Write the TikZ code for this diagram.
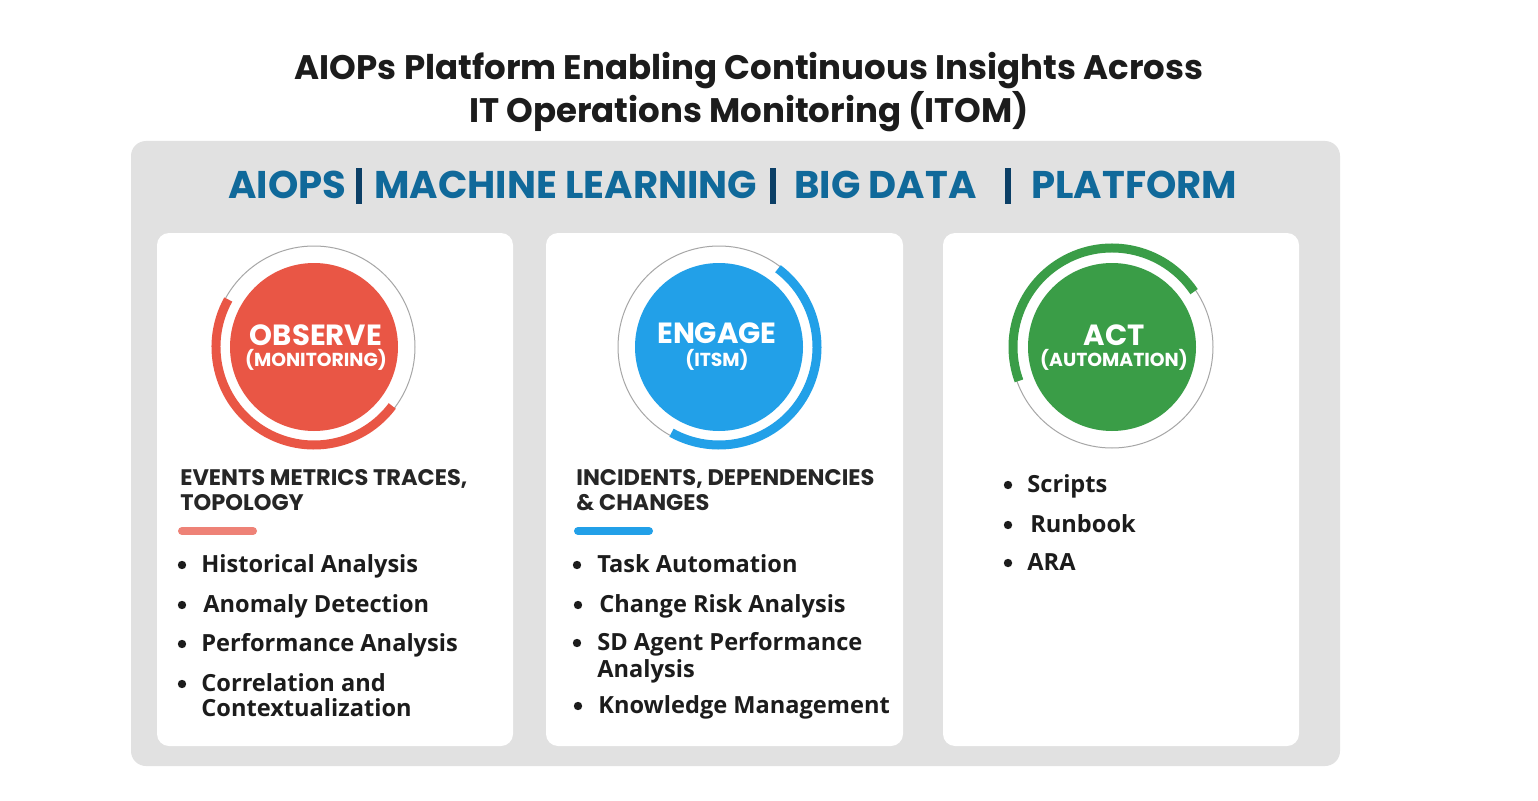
\documentclass[tikz,border=0pt]{standalone}
\usepackage{fontspec}
\setmainfont{Open Sans}
\newfontfamily\pop{Poppins}
\definecolor{panel}{HTML}{E1E1E1}
\definecolor{hdr}{HTML}{10699A}
\definecolor{sepc}{HTML}{0B3F66}
\definecolor{obs}{HTML}{E95645}
\definecolor{obsl}{HTML}{EE8277}
\definecolor{eng}{HTML}{22A0E8}
\definecolor{act}{HTML}{3A9D47}
\definecolor{txt}{HTML}{1C1C1C}
\definecolor{htxt}{HTML}{262626}
\tikzset{
  title/.style={font=\pop\bfseries\fontsize{17}{20}\selectfont, text=txt, inner sep=0, anchor=base},
  hdrtext/.style={font=\pop\bfseries\fontsize{19.3}{23}\selectfont, text=hdr, inner sep=0, anchor=base west},
  sepbar/.style={fill=sepc},
  card/.style={fill=white, rounded corners=6pt},
  disc/.style={circle, inner sep=0, minimum size=84pt},
  ring/.style={draw=black!35, line width=0.5pt},
  arcline/.style={line width=4.5pt},
  big/.style={font=\pop\bfseries\fontsize{14.6}{17}\selectfont, text=white, inner sep=0, anchor=base},
  small/.style={font=\pop\bfseries\fontsize{9.4}{11}\selectfont, text=white, inner sep=0, anchor=base},
  head/.style={font=\pop\bfseries\fontsize{11.25}{13}\selectfont, text=htxt, inner sep=0, anchor=base west},
  item/.style={font=\bfseries\fontsize{11.8}{13.5}\selectfont, text=txt, inner sep=0, anchor=base west},
  dot/.style={fill=txt},
  bar/.style={line width=4pt, line cap=round}
}
\begin{document}
\begin{tikzpicture}[x=0.5pt,y=0.5pt]
\useasboundingbox (0,0) rectangle (1538,800);
\fill[white] (0,0) rectangle (1538,800);
% title
\node[title] (t1) at (749,720) {AIOPs Platform Enabling Continuous Insights Across};
\node[title] (t2) at (749,677) {IT Operations Monitoring (ITOM)};
% panel
\fill[panel, rounded corners=7.5pt] (131,34) rectangle (1340,659);
% header
\node[hdrtext] (h1) at (228,602) {AIOPS};
\fill[sepbar] (356,596) rectangle (362,632);
\node[hdrtext] (h2) at (374,602) {MACHINE LEARNING};
\fill[sepbar] (770,596) rectangle (776,632);
\node[hdrtext] (h3) at (794,602) {BIG DATA};
\fill[sepbar] (1005,596) rectangle (1011,632);
\node[hdrtext] (h4) at (1031,602) {PLATFORM};
% cards
\fill[card] (157,54) rectangle (513,567);
\fill[card] (546,54) rectangle (903,567);
\fill[card] (943,54) rectangle (1299,567);
% circle 1
\node[disc, fill=obs] (c1) at (314,453) {};
\draw[ring] (c1.center) circle[radius=101];
\draw[arcline, obs] (c1.center) ++(151:98) arc[start angle=151, end angle=323, radius=98];
\node[big] (c1a) at (316,455) {OBSERVE};
\node[small] (c1b) at (316,434) {(MONITORING)};
% circle 2
\node[disc, fill=eng] (c2) at (719,453) {};
\draw[ring] (c2.center) circle[radius=101];
\draw[arcline, eng] (c2.center) ++(53:98) arc[start angle=53, end angle=-119, radius=98];
\node[big] (c2a) at (717,457) {ENGAGE};
\node[small] (c2b) at (717,434) {(ITSM)};
% circle 3
\node[disc, fill=act] (c3) at (1112,453) {};
\draw[ring] (c3.center) circle[radius=101];
\draw[arcline, act] (c3.center) ++(34:99) arc[start angle=34, end angle=200, radius=99];
\node[big] (c3a) at (1114,455) {ACT};
\node[small] (c3b) at (1114,434) {(AUTOMATION)};
% card 1 text
\node[head] (k1h1) at (180,315) {EVENTS METRICS TRACES,};
\node[head] (k1h2) at (180,290) {TOPOLOGY};
\draw[bar, obsl] (182,269) -- (253,269);
\fill[dot] (182,235) circle[radius=4.2];
\node[item] (k1i1) at (201,228) {Historical Analysis};
\fill[dot] (182,195) circle[radius=4.2];
\node[item] (k1i2) at (203,188) {Anomaly Detection};
\fill[dot] (182,156) circle[radius=4.2];
\node[item] (k1i3) at (201,149) {Performance Analysis};
\fill[dot] (182,116) circle[radius=4.2];
\node[item] (k1i4) at (201,109) {Correlation and};
\node[item] (k1i5) at (201,84) {Contextualization};
% card 2 text
\node[head] (k2h1) at (576,315) {INCIDENTS, DEPENDENCIES};
\node[head] (k2h2) at (576,290) {\& CHANGES};
\draw[bar, eng] (578,269) -- (649,269);
\fill[dot] (577,235) circle[radius=4.2];
\node[item] (k2i1) at (597,228) {Task Automation};
\fill[dot] (578,195) circle[radius=4.2];
\node[item] (k2i2) at (599,188) {Change Risk Analysis};
\fill[dot] (577,157) circle[radius=4.2];
\node[item] (k2i3) at (597,150) {SD Agent Performance};
\node[item] (k2i4) at (597,123) {Analysis};
\fill[dot] (578,94) circle[radius=4.2];
\node[item] (k2i5) at (598,87) {Knowledge Management};
% card 3 text
\fill[dot] (1008,315) circle[radius=4.2];
\node[item] (k3i1) at (1027,308) {Scripts};
\fill[dot] (1008,275) circle[radius=4.2];
\node[item] (k3i2) at (1030,268) {Runbook};
\fill[dot] (1008,237) circle[radius=4.2];
\node[item] (k3i3) at (1027,230) {ARA};
\end{tikzpicture}
\end{document}
